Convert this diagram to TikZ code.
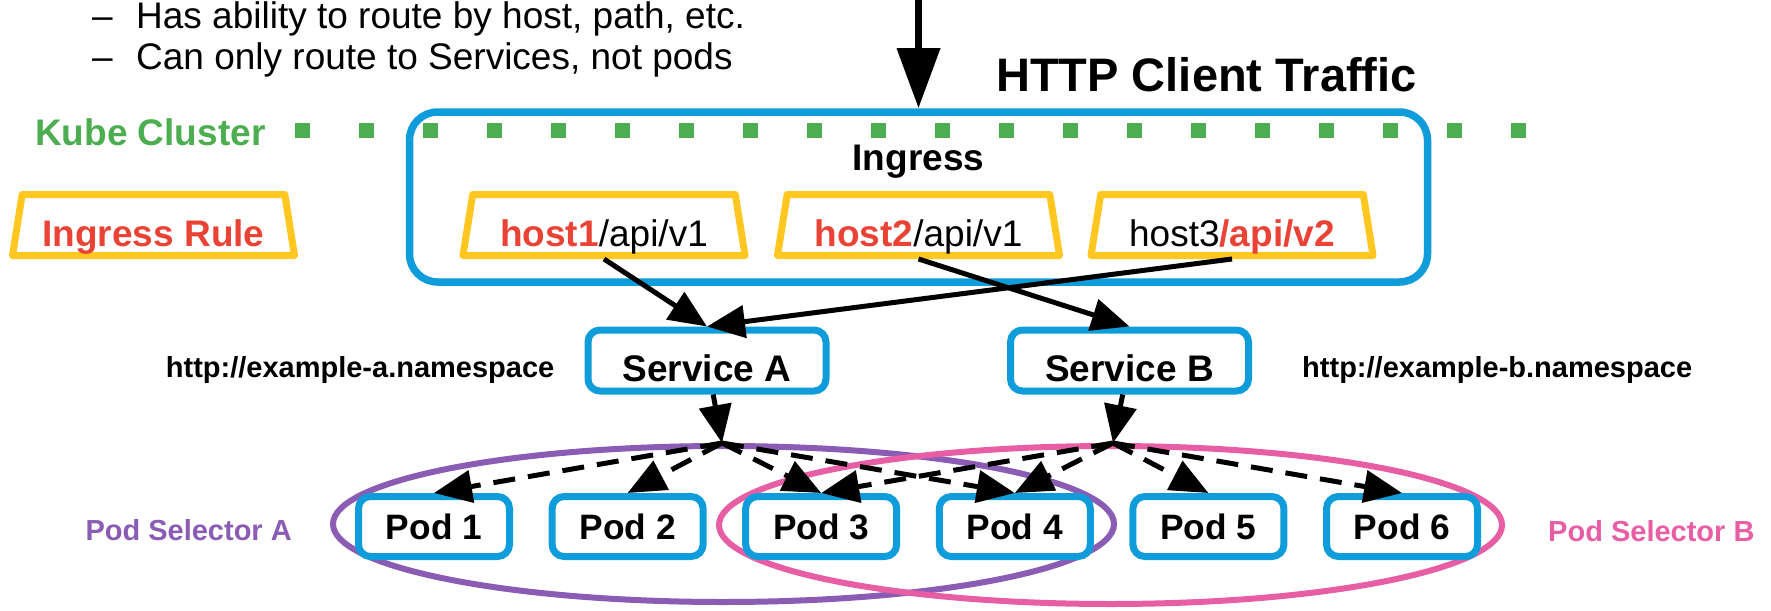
\documentclass[tikz,border=0pt]{standalone}
\usepackage{fontspec}
\setmainfont{Liberation Sans}
\definecolor{KubeBlue}{RGB}{14,157,218}
\definecolor{RuleGold}{RGB}{255,199,32}
\definecolor{HostRed}{RGB}{234,67,53}
\definecolor{ClusterGreen}{RGB}{76,174,80}
\definecolor{SelPurple}{RGB}{138,92,180}
\definecolor{SelPink}{RGB}{232,94,164}
\usetikzlibrary{arrows.meta, positioning, shapes.geometric}
\newcommand{\labfont}{\fontsize{37pt}{44pt}\selectfont}
\newcommand{\tagfont}{\fontsize{29pt}{35pt}\selectfont\bfseries}

\begin{document}
\begin{tikzpicture}[
        x=1pt, y=1pt,
        heading/.style={font=\fontsize{47pt}{56pt}\selectfont\bfseries},
        basetext/.style={text height=42pt, text depth=0pt, inner ysep=0pt},
        hostrule/.style={trapezium, trapezium left angle=77, trapezium right angle=77, trapezium stretches body, draw=RuleGold, line width=7pt, line join=round, minimum width=282pt, minimum height=61pt, inner xsep=0pt, basetext, font=\labfont},
        blueframe/.style={rectangle, draw=KubeBlue, fill=white, line width=7pt, rounded corners=12pt},
        svcbox/.style={blueframe, minimum width=238pt, minimum height=61pt, basetext, font=\labfont\bfseries},
        podbox/.style={blueframe, minimum width=151pt, minimum height=60pt, font=\fontsize{35.3pt}{42pt}\selectfont\bfseries},
        selring/.style={ellipse, draw, line width=6pt, inner sep=0pt},
        nslabel/.style={text height=34pt, text depth=0pt, inner sep=0pt, font=\tagfont},
        seltag/.style={inner sep=0pt, yshift=-6pt, font=\tagfont},
        route/.style={draw, line width=5pt, -{Triangle[length=38pt, width=32pt]}},
        spread/.style={route, dash pattern=on 22pt off 13pt}
    ]
        \useasboundingbox (0,0) rectangle (1771,-610);

        % notes at the top
        \node [anchor=base west, inner sep=0pt, font=\labfont] (note1) at (92,-28.5) {\makebox[44pt][l]{–}Has ability to route by host, path, etc.};
        \node [anchor=base west, inner sep=0pt, font=\labfont] (note2) at (92,-70) {\makebox[44pt][l]{–}Can only route to Services, not pods};
        \node [heading, anchor=base west, inner sep=0pt] (client) at (996,-92) {HTTP Client Traffic};

        % cluster border
        \node [anchor=base west, inner sep=0pt, text=ClusterGreen, font=\labfont\bfseries] (kube) at (35,-145) {Kube Cluster};
        \draw [ClusterGreen, line width=15pt, dash pattern=on 15pt off 49pt] (295,-130.5) -- (1526,-130.5);

        % ingress and its rules
        \node [draw=KubeBlue, line width=7.5pt, rounded corners=28pt, minimum width=1018pt, minimum height=170pt] (ingress) at (918.5,-197) {};
        \node [anchor=base, inner sep=0pt, font=\labfont\bfseries] (ingresstitle) at (918.5,-170) {Ingress};
        \node [hostrule, text=HostRed, font=\labfont\bfseries] (rulekey) at (153.5,-225) {Ingress Rule};
        \node [hostrule] (rule1) at (604,-225) {\textbf{\textcolor{HostRed}{host1}}/api/v1};
        \node [hostrule] (rule2) at (918.5,-225) {\textbf{\textcolor{HostRed}{host2}}/api/v1};
        \node [hostrule] (rule3) at (1232,-225) {host3\textbf{\textcolor{HostRed}{/api/v2}}};
        \coordinate (src) at (918.5,2);

        % services
        \node [svcbox] (svcA) at (707,-360.5) {Service A};
        \node [svcbox] (svcB) at (1129.5,-360.5) {Service B};
        \node [nslabel, left=30pt of svcA] (nsA) {http://example-a.namespace};
        \node [nslabel, right=50pt of svcB] (nsB) {http://example-b.namespace};

        % pod selectors and pods
        \node [selring, draw=SelPurple, minimum width=781pt, minimum height=156pt] (selA) at (723.5,-524) {};
        \node [selring, draw=SelPink, minimum width=783pt, minimum height=158pt] (selB) at (1110.5,-525) {};
        \node [seltag, text=SelPurple, left=38pt of selA] (selAtag) {Pod Selector A};
        \node [seltag, text=SelPink, right=43pt of selB] (selBtag) {Pod Selector B};
        \node [podbox] (pod1) at (434,-526.5) {Pod 1};
        \node [podbox, right=35.6pt of pod1] (pod2) {Pod 2};
        \node [podbox, right=35.6pt of pod2] (pod3) {Pod 3};
        \node [podbox, right=35.6pt of pod3] (pod4) {Pod 4};
        \node [podbox, right=35.6pt of pod4] (pod5) {Pod 5};
        \node [podbox, right=35.6pt of pod5] (pod6) {Pod 6};
        \coordinate (forkA) at (722,-443);
        \coordinate (forkB) at (1113,-443);

        % traffic
        \draw [line width=7pt, -{Triangle[length=60pt, width=42pt]}] (src) -- (ingress.north);
        \path [route] (rule1.south) -- (svcA.north);
        \path [route] (rule3.south) -- (svcA.north);
        \path [route] (rule2.south) -- (svcB.north);
        \path [route] (svcA) -- (forkA);
        \path [route] (svcB) -- (forkB);
        \path [spread] (forkA) -- (pod1.north);
        \path [spread] (forkA) -- (pod2.north);
        \path [spread] (forkA) -- (pod3.north);
        \path [spread] (forkA) -- (pod4.north);
        \path [spread] (forkB) -- (pod3.north);
        \path [spread] (forkB) -- (pod4.north);
        \path [spread] (forkB) -- (pod5.north);
        \path [spread] (forkB) -- (pod6.north);
    \end{tikzpicture}
\end{document}
